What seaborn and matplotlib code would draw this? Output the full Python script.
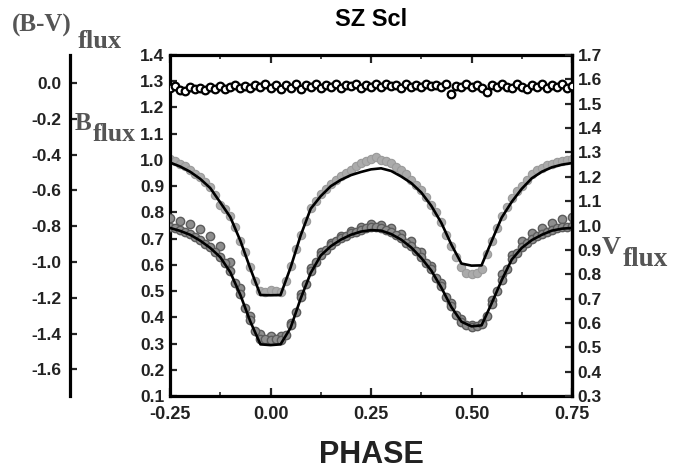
import matplotlib
matplotlib.use("Agg")
import matplotlib.pyplot as plt
import seaborn as sns

# model fits, sampled every 0.025 in phase
phase_fit = [-0.250, -0.225, -0.200, -0.175, -0.150, -0.125, -0.100, -0.075,
             -0.050, -0.025, 0.000, 0.025, 0.050, 0.075, 0.100, 0.125, 0.150,
             0.175, 0.200, 0.225, 0.250, 0.275, 0.300, 0.325, 0.350, 0.375,
             0.400, 0.425, 0.450, 0.475, 0.500, 0.525, 0.550, 0.575, 0.600,
             0.625, 0.650, 0.675, 0.700, 0.725, 0.750]
b_fit = [0.990, 0.975, 0.955, 0.928, 0.893, 0.838, 0.782, 0.692, 0.585, 0.485,
         0.484, 0.485, 0.590, 0.712, 0.814, 0.862, 0.900, 0.924, 0.942, 0.954,
         0.964, 0.968, 0.958, 0.937, 0.912, 0.876, 0.825, 0.760, 0.677, 0.605,
         0.597, 0.598, 0.690, 0.780, 0.840, 0.890, 0.930, 0.955, 0.972, 0.982,
         0.988]
v_fit = [0.990, 0.978, 0.962, 0.938, 0.908, 0.870, 0.808, 0.715, 0.605, 0.512,
         0.509, 0.512, 0.580, 0.700, 0.805, 0.877, 0.915, 0.942, 0.962, 0.975,
         0.981, 0.979, 0.965, 0.942, 0.910, 0.867, 0.815, 0.745, 0.665, 0.605,
         0.586, 0.590, 0.680, 0.775, 0.860, 0.908, 0.940, 0.962, 0.979, 0.987,
         0.990]

# observations, every 0.0125 in phase
phase_obs = [-0.2500, -0.2375, -0.2250, -0.2125, -0.2000, -0.1875, -0.1750,
             -0.1625, -0.1500, -0.1375, -0.1250, -0.1125, -0.1000, -0.0875,
             -0.0750, -0.0625, -0.0500, -0.0375, -0.0250, -0.0125, 0.0000,
             0.0125, 0.0250, 0.0375, 0.0500, 0.0625, 0.0750, 0.0875, 0.1000,
             0.1125, 0.1250, 0.1375, 0.1500, 0.1625, 0.1750, 0.1875, 0.2000,
             0.2125, 0.2250, 0.2375, 0.2500, 0.2625, 0.2750, 0.2875, 0.3000,
             0.3125, 0.3250, 0.3375, 0.3500, 0.3625, 0.3750, 0.3875, 0.4000,
             0.4125, 0.4250, 0.4375, 0.4500, 0.4625, 0.4750, 0.4875, 0.5000,
             0.5125, 0.5250, 0.5375, 0.5500, 0.5625, 0.5750, 0.5875, 0.6000,
             0.6125, 0.6250, 0.6375, 0.6500, 0.6625, 0.6750, 0.6875, 0.7000,
             0.7125, 0.7250, 0.7375, 0.7500]
b_obs = [1.005, 0.995, 0.985, 0.975, 0.962, 0.948, 0.935, 0.915, 0.897, 0.865,
         0.830, 0.812, 0.785, 0.745, 0.690, 0.650, 0.590, 0.540, 0.500, 0.495,
         0.505, 0.500, 0.497, 0.540, 0.595, 0.660, 0.715, 0.768, 0.818, 0.845,
         0.870, 0.890, 0.908, 0.925, 0.938, 0.950, 0.962, 0.975, 0.990, 0.995,
         1.005, 1.010, 1.000, 0.995, 0.990, 0.972, 0.960, 0.945, 0.925, 0.905,
         0.885, 0.860, 0.830, 0.800, 0.765, 0.715, 0.670, 0.630, 0.590, 0.570,
         0.565, 0.570, 0.585, 0.640, 0.690, 0.740, 0.785, 0.820, 0.855, 0.880,
         0.900, 0.925, 0.945, 0.960, 0.968, 0.980, 0.985, 0.992, 0.997, 1.000,
         1.003]
v_obs = [0.995, 0.988, 0.980, 0.972, 0.965, 0.952, 0.940, 0.925, 0.910, 0.893,
         0.872, 0.845, 0.812, 0.765, 0.718, 0.662, 0.610, 0.565, 0.535, 0.535,
         0.530, 0.532, 0.530, 0.550, 0.590, 0.645, 0.705, 0.760, 0.812, 0.850,
         0.880, 0.900, 0.920, 0.935, 0.948, 0.958, 0.968, 0.975, 0.982, 0.990,
         0.995, 0.993, 0.990, 0.982, 0.972, 0.960, 0.948, 0.930, 0.915, 0.895,
         0.872, 0.848, 0.820, 0.785, 0.750, 0.708, 0.668, 0.632, 0.605, 0.590,
         0.585, 0.588, 0.595, 0.630, 0.678, 0.730, 0.778, 0.822, 0.862, 0.888,
         0.910, 0.928, 0.945, 0.955, 0.965, 0.975, 0.982, 0.988, 0.992, 0.995,
         0.998]
# second V track (other nights), every 0.025 in phase
v_obs2 = [1.032, 1.020, 1.005, 0.985, 0.955, 0.915, 0.850, 0.745, 0.630, 0.555,
          0.545, 0.548, 0.600, 0.720, 0.825, 0.890, 0.930, 0.958, 0.978, 0.995,
          1.005, 1.003, 0.990, 0.965, 0.935, 0.890, 0.835, 0.765, 0.680, 0.615,
          0.590, 0.598, 0.695, 0.800, 0.880, 0.935, 0.968, 0.990, 1.010, 1.025,
          1.035]
bv_obs = [-0.030, -0.015, -0.038, -0.045, -0.022, -0.035, -0.028, -0.040,
          -0.020, -0.033, -0.018, -0.036, -0.025, -0.012, -0.030, -0.018,
          -0.028, -0.010, -0.025, -0.008, -0.030, -0.012, -0.035, -0.010,
          -0.028, -0.006, -0.032, -0.012, -0.025, -0.008, -0.030, -0.012,
          -0.022, -0.005, -0.028, -0.012, -0.018, -0.006, -0.026, -0.010,
          -0.020, -0.008, -0.024, -0.006, -0.018, -0.010, -0.026, -0.008,
          -0.020, -0.012, -0.025, -0.006, -0.018, -0.010, -0.022, -0.008,
          -0.060, -0.015, -0.025, -0.005, -0.020, -0.010, -0.028, -0.050,
          -0.012, -0.025, -0.006, -0.020, -0.030, -0.008, -0.022, -0.035,
          -0.010, -0.025, -0.006, -0.030, -0.012, -0.020, -0.008, -0.028,
          -0.015]

phase_ticks = [-0.25, 0.0, 0.25, 0.5, 0.75]
phase_minor = [-0.125, 0.125, 0.375, 0.625]
b_ticks = [0.1, 0.2, 0.3, 0.4, 0.5, 0.6, 0.7, 0.8, 0.9, 1.0, 1.1, 1.2, 1.3, 1.4]
v_ticks = [0.3, 0.4, 0.5, 0.6, 0.7, 0.8, 0.9, 1.0, 1.1, 1.2, 1.3, 1.4, 1.5,
           1.6, 1.7]
bv_ticks = [0.0, -0.2, -0.4, -0.6, -0.8, -1.0, -1.2, -1.4, -1.6]

# ── Style ─────────────────────────────────────────────────────────────────────
sns.set_theme(style="white")
plt.rcParams["font.family"] = ["Liberation Sans", "DejaVu Sans"]
plt.rcParams["font.weight"] = "bold"
plt.rcParams["axes.unicode_minus"] = False

W, H = 681, 471
fig = plt.figure(figsize=(W / 100, H / 100), dpi=100)
ax = fig.add_axes([170 / W, 1 - 396 / H, 402 / W, 341 / H])
ax_v = ax.twinx()
ax_bv = ax.twinx()

LBL = "#222222"
SPINE_W = 2.3
TICK_FS = 12.5

# ── Data ──────────────────────────────────────────────────────────────────────
sns.scatterplot(x=phase_obs, y=b_obs, ax=ax, s=36, color="#ababab",
                edgecolor="#9a9a9a", linewidth=0.8, zorder=2, legend=False)
sns.lineplot(x=phase_fit, y=b_fit, ax=ax, color="black", linewidth=1.9,
             zorder=3)

sns.scatterplot(x=phase_fit, y=v_obs2, ax=ax_v, s=36, color="#8e8e8e",
                edgecolor="#5c5c5c", linewidth=1.0, zorder=2, legend=False)
sns.scatterplot(x=phase_obs, y=v_obs, ax=ax_v, s=36, color="#8e8e8e",
                edgecolor="#5c5c5c", linewidth=1.0, zorder=2, legend=False)
sns.lineplot(x=phase_fit, y=v_fit, ax=ax_v, color="black", linewidth=1.9,
             zorder=3)

sns.scatterplot(x=phase_obs, y=bv_obs, ax=ax_bv, s=30, color="white",
                edgecolor="black", linewidth=1.6, zorder=2, legend=False)

# ── Axes ──────────────────────────────────────────────────────────────────────
ax.set_xlim(-0.25, 0.75)
ax.set_ylim(0.1, 1.4)
ax_v.set_ylim(0.3, 1.7)
ax_bv.set_ylim(-1.749, 0.156)

ax.set_xticks(phase_ticks)
ax.set_xticks(phase_minor, minor=True)
ax.set_xticklabels([f"{t:.2f}" for t in phase_ticks])
ax.set_yticks(b_ticks)
ax.set_yticklabels([f"{t:.1f}" for t in b_ticks])
ax_v.set_yticks(v_ticks)
ax_v.set_yticklabels([f"{t:.1f}" for t in v_ticks])
ax_bv.set_yticks(bv_ticks)
ax_bv.set_yticklabels([f"{t:.1f}" for t in bv_ticks])

for a in (ax, ax_v, ax_bv):
    a.set_xlabel("")
    a.set_ylabel("")
    for sp in a.spines.values():
        sp.set_color("black")
        sp.set_linewidth(SPINE_W)

for side in ("left", "top", "bottom"):
    ax_v.spines[side].set_visible(False)
for side in ("right", "top", "bottom"):
    ax_bv.spines[side].set_visible(False)
ax_bv.spines["left"].set_position(("axes", -100 / 402))
ax_bv.yaxis.set_ticks_position("left")

ax.tick_params(axis="x", which="major", direction="in", length=6, width=1.6,
               top=True, bottom=True, labelsize=13, pad=7, labelcolor=LBL)
ax.tick_params(axis="x", which="minor", direction="in", length=3, width=1.2,
               top=True, bottom=True)
ax.tick_params(axis="y", which="major", direction="in", length=5, width=1.6,
               left=True, right=False, labelsize=TICK_FS, pad=4,
               labelcolor=LBL)
ax_v.tick_params(axis="y", direction="in", length=5, width=1.6, left=False,
                 right=True, labelright=True, labelleft=False,
                 labelsize=TICK_FS, pad=4, labelcolor=LBL)
ax_bv.tick_params(axis="y", direction="in", length=5, width=1.6, left=True,
                  right=False, labelleft=True, labelright=False,
                  labelsize=TICK_FS, pad=6, labelcolor=LBL)

# ── Texts ─────────────────────────────────────────────────────────────────────
SERIF = dict(family=["Liberation Serif", "DejaVu Serif"], weight="bold",
             color="#555555", va="center", ha="left")
fig.text(12 / W, 1 - 25 / H, "(B-V)", size=18, **SERIF)
fig.text(78 / W, 1 - 41 / H, "flux", size=19, **SERIF)
fig.text(75 / W, 1 - 123 / H, "B", size=18, **SERIF)
fig.text(93 / W, 1 - 135 / H, "flux", size=18.5, **SERIF)
fig.text(602 / W, 1 - 248 / H, "V", size=19, **SERIF)
fig.text(623 / W, 1 - 259 / H, "flux", size=19.5, **SERIF)

fig.text(371 / W, 1 - 19 / H, "SZ Scl", size=17, weight="bold",
         color="black", ha="center", va="center")
fig.text(371 / W, 1 - 455 / H, "PHASE", size=22, weight="bold",
         color=LBL, ha="center", va="center")

fig.savefig("out.png", dpi=100)
plt.close(fig)
